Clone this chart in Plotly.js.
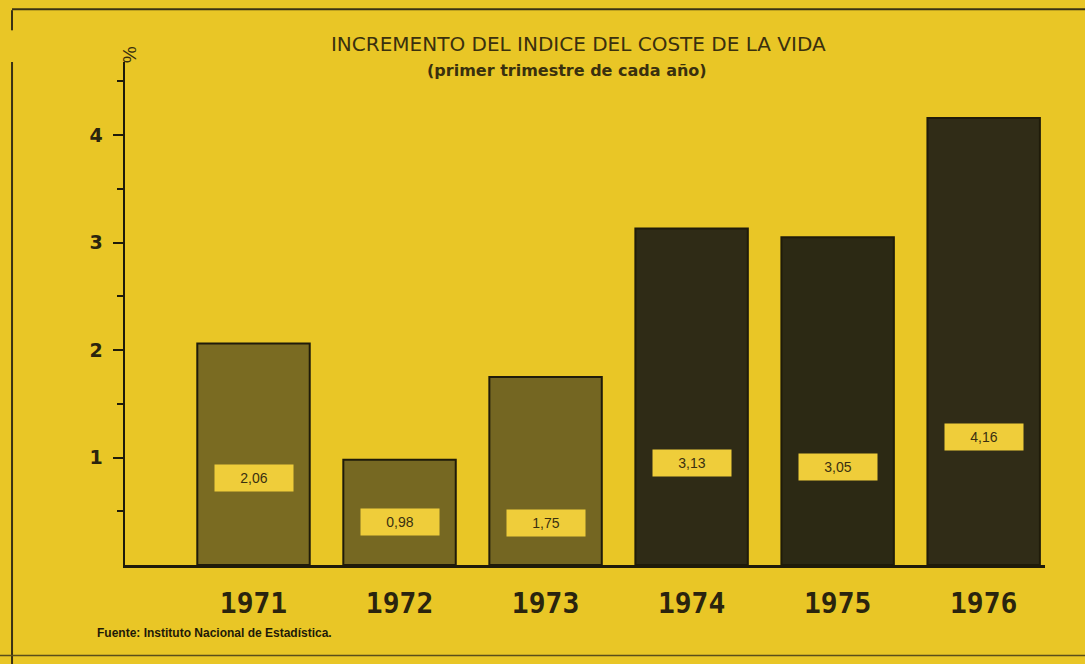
<!DOCTYPE html>
<html>
<head>
<meta charset="utf-8">
<script src="https://cdn.plot.ly/plotly-3.0.1.min.js"></script>
<style>html,body{margin:0;padding:0;background:#e9c626;}</style>
</head>
<body>
<div id="chart" style="width:1085px;height:664px;"></div>
<script>
// Data
const years = ["1971", "1972", "1973", "1974", "1975", "1976"];
const values = [2.06, 0.98, 1.75, 3.13, 3.05, 4.16];
const valueLabels = ["2,06", "0,98", "1,75", "3,13", "3,05", "4,16"];
const yTicks = [1, 2, 3, 4];

// Style
const barColors = ["#7a6b22", "#766822", "#746622", "#2f2b16", "#2c2914", "#302c17"];
const labelY = [0.81, 0.40, 0.39, 0.95, 0.91, 1.19];
const ink = "#2a240e";
const idx = years.map((_, i) => i);

const trace = {
  type: "bar",
  x: idx,
  y: values,
  width: 0.77,
  marker: { color: barColors, line: { color: "#1f1b0a", width: 2 } },
  hoverinfo: "skip"
};

const annotations = values.map((v, i) => ({
  x: i, y: labelY[i], xref: "x", yref: "y",
  text: valueLabels[i], showarrow: false,
  font: { family: "Liberation Sans, Arial, sans-serif", size: 14, color: "#3a3010" },
  bgcolor: "#efcd3a", width: 76, height: 24, align: "center"
}));

annotations.push({
  xref: "paper", yref: "paper", x: 0.4805, y: 0.984, yanchor: "middle",
  text: "<b>(primer trimestre de cada año)</b>", showarrow: false,
  font: { family: "DejaVu Sans, sans-serif", size: 16, color: "#3a300e" }
});
annotations.push({
  xref: "paper", yref: "paper", x: -0.009, y: 1.015, yanchor: "middle",
  text: "%", textangle: 90, showarrow: false,
  font: { family: "Liberation Sans, Arial, sans-serif", size: 19, color: "#3a300e" }
});
annotations.push({
  xref: "paper", yref: "paper", x: -0.0326, xanchor: "left", y: -0.135, yanchor: "middle",
  text: "<b>Fuente: Instituto Nacional de Estadística.</b>", showarrow: false,
  font: { family: "Liberation Sans, Arial, sans-serif", size: 12, color: "#1e1a08" }
});

const lineStyle = { color: "#3a3214", width: 2 };
const shapes = [
  { type: "line", xref: "paper", yref: "paper", x0: -0.1228, x1: -0.1228, y0: 1.103, y1: 1.063, line: lineStyle },
  { type: "line", xref: "paper", yref: "paper", x0: -0.1228, x1: -0.1228, y0: 1.0, y1: -0.197, line: lineStyle },
  { type: "line", xref: "paper", yref: "paper", x0: -0.1228, x1: 1.05, y0: 1.105, y1: 1.105, line: lineStyle },
  { type: "line", xref: "paper", yref: "paper", x0: -0.14, x1: 1.05, y0: -0.18, y1: -0.18, line: { color: "#5a4e1a", width: 1.5 } }
];

const layout = {
  width: 1085, height: 664,
  margin: { l: 125, r: 40, t: 62, b: 99 },
  paper_bgcolor: "#e9c626",
  plot_bgcolor: "#e9c626",
  showlegend: false,
  title: {
    text: "INCREMENTO DEL INDICE DEL COSTE DE LA VIDA",
    font: { family: "DejaVu Sans, sans-serif", size: 20, color: "#3a300e" },
    xref: "container", x: 0.533, xanchor: "center",
    yref: "container", y: 0.934, yanchor: "middle"
  },
  xaxis: {
    range: [-0.88, 5.42],
    tickvals: idx, ticktext: years,
    showgrid: false, zeroline: false,
    showline: true, linecolor: "#1f1b0a", linewidth: 2.5,
    ticks: "", ticklabelstandoff: 12,
    tickfont: { family: "DejaVu Sans Mono, monospace", size: 28, color: ink, weight: "bold" },
    fixedrange: true
  },
  yaxis: {
    range: [0, 4.68],
    tickvals: yTicks,
    showgrid: false, zeroline: false,
    showline: true, linecolor: "#1f1b0a", linewidth: 2.5,
    ticks: "outside", ticklen: 10, tickwidth: 2, tickcolor: "#1f1b0a",
    minor: { tickvals: [0.5, 1.5, 2.5, 3.5, 4.5], ticks: "outside", ticklen: 6, tickwidth: 2, tickcolor: "#1f1b0a" },
    tickfont: { family: "DejaVu Sans, sans-serif", size: 19, color: ink, weight: "bold" },
    ticklabelstandoff: 6,
    fixedrange: true
  },
  annotations: annotations,
  shapes: shapes,
  bargap: 0
};

Plotly.newPlot("chart", [trace], layout, { displayModeBar: false, staticPlot: true });
</script>
</body>
</html>
